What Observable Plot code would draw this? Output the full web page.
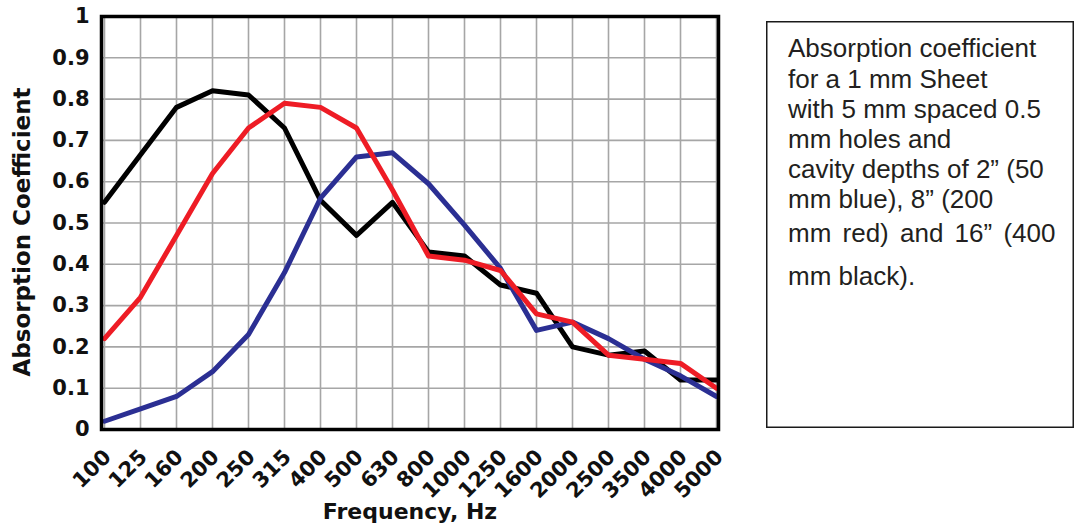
<!DOCTYPE html>
<html>
<head>
<meta charset="utf-8">
<script src="https://cdn.jsdelivr.net/npm/d3@7"></script>
<script src="https://cdn.jsdelivr.net/npm/@observablehq/plot@0.6"></script>
<style>
  body { margin: 0; background: #fff; }
  #wrap { position: relative; width: 1075px; height: 526px; overflow: hidden; background: #fff; }
  #chart { position: absolute; left: 0; top: 0; }
  #note { position: absolute; left: 766px; top: 21px; }
</style>
</head>
<body>
<div id="wrap">
  <div id="chart"></div>
  <svg id="note" width="308" height="407"></svg>
</div>
<script>
// One-third-octave band centres (Hz)
const frequencies = ["100", "125", "160", "200", "250", "315", "400", "500", "630",
  "800", "1000", "1250", "1600", "2000", "2500", "3500", "4000", "5000"];

// Absorption coefficient for each cavity depth
const cavity50mm = [0.02, 0.05, 0.08, 0.14, 0.23, 0.38, 0.56, 0.66, 0.67,
  0.595, 0.495, 0.39, 0.24, 0.26, 0.22, 0.17, 0.13, 0.08];   // 2" – blue
const cavity200mm = [0.22, 0.32, 0.47, 0.62, 0.73, 0.79, 0.78, 0.73, 0.58,
  0.42, 0.41, 0.385, 0.28, 0.26, 0.18, 0.17, 0.16, 0.10];    // 8" – red
const cavity400mm = [0.55, 0.665, 0.78, 0.82, 0.81, 0.73, 0.555, 0.47, 0.55,
  0.43, 0.42, 0.35, 0.33, 0.20, 0.18, 0.19, 0.12, 0.12];     // 16" – black

const yTicks = [0, 0.1, 0.2, 0.3, 0.4, 0.5, 0.6, 0.7, 0.8, 0.9, 1];
const yTickLabels = ["0", "0.1", "0.2", "0.3", "0.4", "0.5", "0.6", "0.7", "0.8", "0.9", "1"];

const xTitle = "Frequency, Hz";
const yTitle = "Absorption Coefficient";

const noteLines = [
  "Absorption coefficient",
  "for a 1 mm Sheet",
  "with 5 mm spaced 0.5",
  "mm holes and",
  "cavity depths of 2\u201d (50",
  "mm blue), 8\u201d (200",
  "mm red) and 16\u201d (400",
  "mm black)."
];

const tidy = (values) => frequencies.map((f, i) => ({frequency: f, coefficient: values[i]}));

const lineStyle = {x: "frequency", y: "coefficient", strokeWidth: 5, strokeLinejoin: "round", strokeLinecap: "round"};

const chart = Plot.plot({
  width: 740,
  height: 526,
  marginLeft: 101,
  marginRight: 22,
  marginTop: 16,
  marginBottom: 97,
  style: {fontFamily: "'DejaVu Sans', sans-serif", fontWeight: "bold", fontSize: "21px", color: "#111", background: "transparent", overflow: "visible"},
  x: {type: "point", domain: frequencies, padding: 0, label: null},
  y: {domain: [0, 1], label: null},
  marks: [
    Plot.gridX(frequencies, {stroke: "#a6a6a6", strokeOpacity: 1, strokeWidth: 1.6}),
    Plot.gridY(yTicks, {stroke: "#a6a6a6", strokeOpacity: 1, strokeWidth: 1.6}),
    Plot.axisY(yTicks, {tickSize: 0, tickPadding: 12, label: null,
      tickFormat: (d) => yTickLabels[yTicks.indexOf(d)]}),
    Plot.axisX(frequencies, {tickSize: 0, tickRotate: -45, tickPadding: 24, dx: 3, label: null}),
    Plot.line(tidy(cavity400mm), {...lineStyle, stroke: "#000000"}),
    Plot.line(tidy(cavity50mm), {...lineStyle, stroke: "#2b2f93"}),
    Plot.line(tidy(cavity200mm), {...lineStyle, stroke: "#ee1c25"}),
    Plot.frame({stroke: "#000", strokeWidth: 3.5}),
    Plot.text([xTitle], {frameAnchor: "bottom", textAnchor: "middle", lineAnchor: "middle", dy: 82, fontSize: 22}),
    Plot.text([yTitle], {frameAnchor: "left", textAnchor: "middle", lineAnchor: "middle", rotate: -90, dx: -79, dy: 9, fontSize: 23})
  ]
});
document.getElementById("chart").appendChild(chart);

// Caption box to the right of the chart
const note = d3.select("#note");
note.append("rect")
  .attr("x", 0.75).attr("y", 0.75)
  .attr("width", 306.5).attr("height", 405.5)
  .attr("fill", "none").attr("stroke", "#1a1a1a").attr("stroke-width", 1.5);
const baselines = [36, 67, 97, 127, 157, 187, 221, 264];
note.selectAll("text.line")
  .data(noteLines)
  .join("text")
  .attr("class", "line")
  .attr("x", 22)
  .attr("y", (d, i) => baselines[i])
  .attr("fill", "#231f20")
  .style("font-family", "'Liberation Sans', Arial, sans-serif")
  .style("font-size", "26px")
  .style("word-spacing", (d, i) => i === 6 ? "4px" : null)
  .text(d => d);
</script>
</body>
</html>
